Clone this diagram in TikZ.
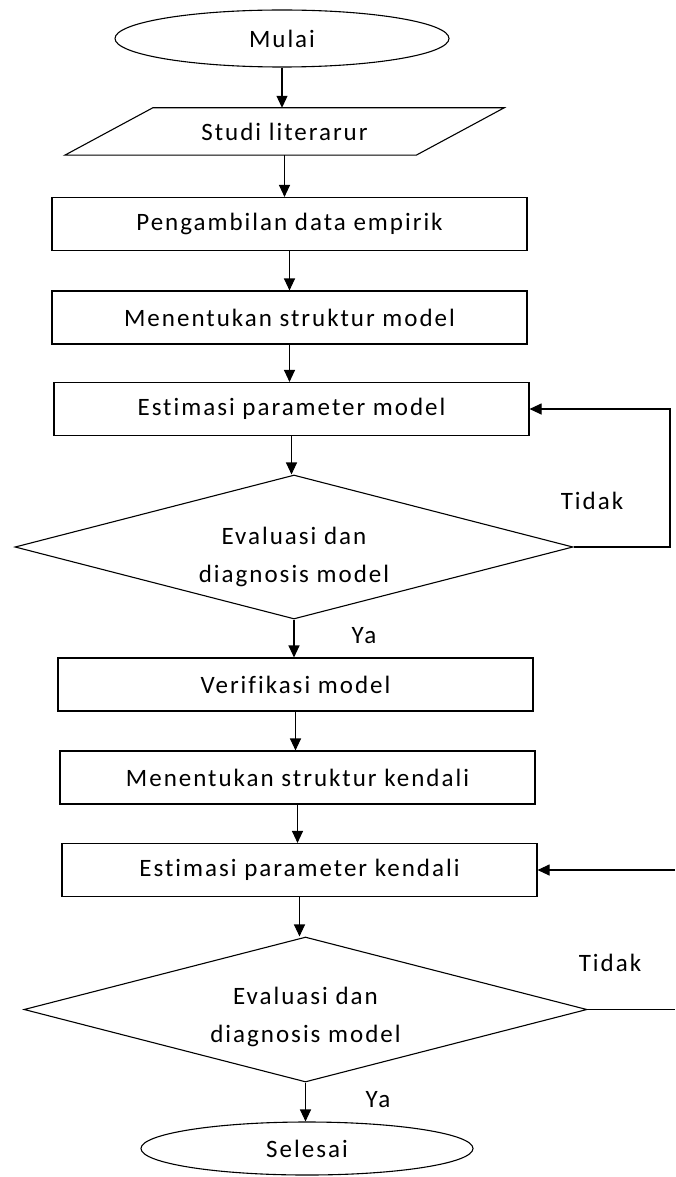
\documentclass[tikz,border=0pt]{standalone}
\usepackage{fontspec}
\setmainfont{Carlito}[LetterSpace=8,Ligatures=NoCommon]
\usetikzlibrary{shapes.geometric,arrows.meta}
\begin{document}
\begin{tikzpicture}[x=1pt,y=-1pt,
  every node/.style={font=\fontsize{25}{38}\selectfont},
  base/.style={draw=black,line width=1.1pt,inner sep=0pt},
  term/.style={base,ellipse},
  procbox/.style={base,rectangle,minimum width=475pt,minimum height=53pt},
  decide/.style={base,diamond,aspect=3.88},
  dtext/.style={inner sep=0pt,align=center},
  lbl/.style={inner sep=0pt},
  arr/.style={line width=1.1pt,-{Triangle[length=12pt,width=11pt]}},
  ln/.style={line width=1.1pt}]
\useasboundingbox (0,0) rectangle (675,1177);

\node[term,minimum width=334pt,minimum height=57pt] (mulai) at (282,38.5) {Mulai};
\node[inner sep=0pt,minimum width=351pt,minimum height=47pt] (lit) at (284.5,131.5) {Studi literarur};
\draw[ln] ([xshift=44pt]lit.north west) -- ([xshift=44pt]lit.north east)
  -- ([xshift=-44pt]lit.south east) -- ([xshift=-44pt]lit.south west) -- cycle;
\node[procbox] (data) at (289.5,224) {Pengambilan data empirik};
\node[procbox] (struk) at (289.5,317.5) {Menentukan struktur model};
\node[procbox] (estm) at (291.5,409) {Estimasi parameter model};
\node[decide,minimum width=558pt,minimum height=144pt] (eval1) at (294,547) {};
\node[dtext] (eval1t) at (294,557) {Evaluasi dan\\diagnosis model};
\node[procbox] (verif) at (295.5,684.5) {Verifikasi model};
\node[procbox] (strukk) at (297.5,777.5) {Menentukan struktur kendali};
\node[procbox] (estk) at (299.5,870) {Estimasi parameter kendali};
\node[decide,minimum width=563pt,minimum height=145pt] (eval2) at (305.5,1009.5) {};
\node[dtext] (eval2t) at (305.5,1017) {Evaluasi dan\\diagnosis model};
\node[term,minimum width=332pt,minimum height=53pt] (selesai) at (307,1148.5) {Selesai};

\draw[arr] (mulai.south) -- (mulai.south |- lit.north);
\draw[arr] (lit.south) -- (lit.south |- data.north);
\draw[arr] (data.south) -- (data.south |- struk.north);
\draw[arr] (struk.south) -- (struk.south |- estm.north);
\draw[arr] (estm.south) -- (estm.south |- eval1.north);
\draw[arr] (eval1.south) -- (eval1.south |- verif.north);
\draw[arr] (verif.south) -- (verif.south |- strukk.north);
\draw[arr] (strukk.south) -- (strukk.south |- estk.north);
\draw[arr] (estk.south) -- (estk.south |- eval2.north);
\draw[arr] (eval2.south) -- (eval2.south |- selesai.north);

\coordinate (fb1) at (670,409);
\draw[arr] (eval1.east) -| (fb1) -- (estm.east);
\coordinate (fb2in) at (675,870);
\draw[arr] (fb2in) -- (estk.east);
\coordinate (fb2out) at (675,1009.5);
\draw[ln] (eval2.east) -- (fb2out);

\node[lbl] (tidak1) at (592,501) {Tidak};
\node[lbl] (ya1) at (364,636) {Ya};
\node[lbl] (tidak2) at (610,963) {Tidak};
\node[lbl] (ya2) at (378,1100) {Ya};
\end{tikzpicture}
\end{document}
